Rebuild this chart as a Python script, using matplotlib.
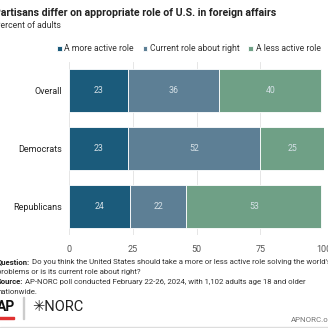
import numpy as np
import matplotlib.pyplot as plt
from matplotlib.patches import Rectangle

plt.rcParams['font.family'] = ['Roboto', 'DejaVu Sans']

groups = ['Overall', 'Democrats', 'Republicans']
more_active = [23, 23, 24]
about_right = [36, 52, 22]
less_active = [40, 25, 53]
series = ['A more active role', 'Current role about right', 'A less active role']
colors = ['#1b5b7b', '#5d7f95', '#6fa086']
ticks = [0, 25, 50, 75, 100]

fig = plt.figure(figsize=(3.28, 3.28), dpi=100)
ax = fig.add_axes([69/328, 1-235/328, 255/328, 173/328])

y = np.arange(len(groups))
left = np.zeros(len(groups))
for vals, col, name in zip([more_active, about_right, less_active], colors, series):
    bars = ax.barh(y, vals, left=left, height=0.75, color=col, edgecolor='white',
                   linewidth=0.6, label=name, zorder=3)
    for b, v in zip(bars, vals):
        ax.text(b.get_x() + b.get_width()/2, b.get_y() + b.get_height()/2, str(v),
                ha='center', va='center', color='#d5e0e6', fontsize=6.3, zorder=4)
    left += np.array(vals)

ax.set_xlim(0, 100)
ax.set_ylim(len(groups) - 0.5, -0.5)
ax.set_yticks(y)
ax.set_yticklabels(groups, fontsize=6.5, color='#222222')
ax.set_xticks(ticks)
ax.set_xticklabels([str(t) for t in ticks], fontsize=6.5, color='#555555')
ax.tick_params(length=0, pad=5)
ax.tick_params(axis='x', pad=7)
ax.grid(axis='x', color='#e6e6e6', linewidth=0.7, zorder=0)
for s in ax.spines.values():
    s.set_visible(False)

ax.legend(loc='lower right', bbox_to_anchor=(1.0, 1.03), ncol=3, frameon=False,
          fontsize=6.2, handlelength=0.55, handleheight=0.55, handletextpad=0.3,
          columnspacing=1.0, borderaxespad=0, labelcolor='#333333')

fig.text(-6.5/328, 1-13/328, 'Partisans differ on appropriate role of U.S. in foreign affairs',
         fontsize=7.6, fontweight='bold', color='#222222', va='center')
fig.text(-5/328, 1-25/328, 'Percent of adults', fontsize=6.2, color='#333333', va='center')

foot = 5.6
def label_line(x, yy, head, rest):
    t = fig.text(x/328, 1-yy/328, head, fontsize=foot, fontweight='bold', color='#222222', va='center')
    fig.canvas.draw()
    bb = t.get_window_extent()
    fig.text(bb.x1/328 + 1.5/328, 1-yy/328, rest, fontsize=foot, color='#333333', va='center')

label_line(-3, 262, 'Question:', "Do you think the United States should take a more or less active role solving the world's")
fig.text(-3/328, 1-272/328, 'problems or is its current role about right?', fontsize=foot, color='#333333', va='center')
label_line(-3, 282, 'Source:', 'AP-NORC poll conducted February 22-26, 2024, with 1,102 adults age 18 and older')
fig.text(-3/328, 1-292/328, 'nationwide.', fontsize=foot, color='#333333', va='center')

fig.text(-3/328, 1-307/328, 'AP', fontsize=10, fontweight='bold', color='#111111', va='center')
fig.add_artist(Rectangle((-3/328, 1-319/328), 17/328, 2/328, color='#e03131', transform=fig.transFigure))
fig.add_artist(Rectangle((23/328, 1-319/328), 0.6/328, 22/328, color='#cccccc', transform=fig.transFigure))
fig.text(32/328, 1-307/328, '\u2733NORC', fontsize=10.5, color='#222222', va='center')
fig.text(291/328, 1-320/328, 'APNORC.org', fontsize=5.7, color='#777777', va='center', ha='left')

fig.add_artist(Rectangle((0, 0), 1, 1.5/328, color='#dddddd', transform=fig.transFigure))

fig.savefig('out.png', dpi=100)
